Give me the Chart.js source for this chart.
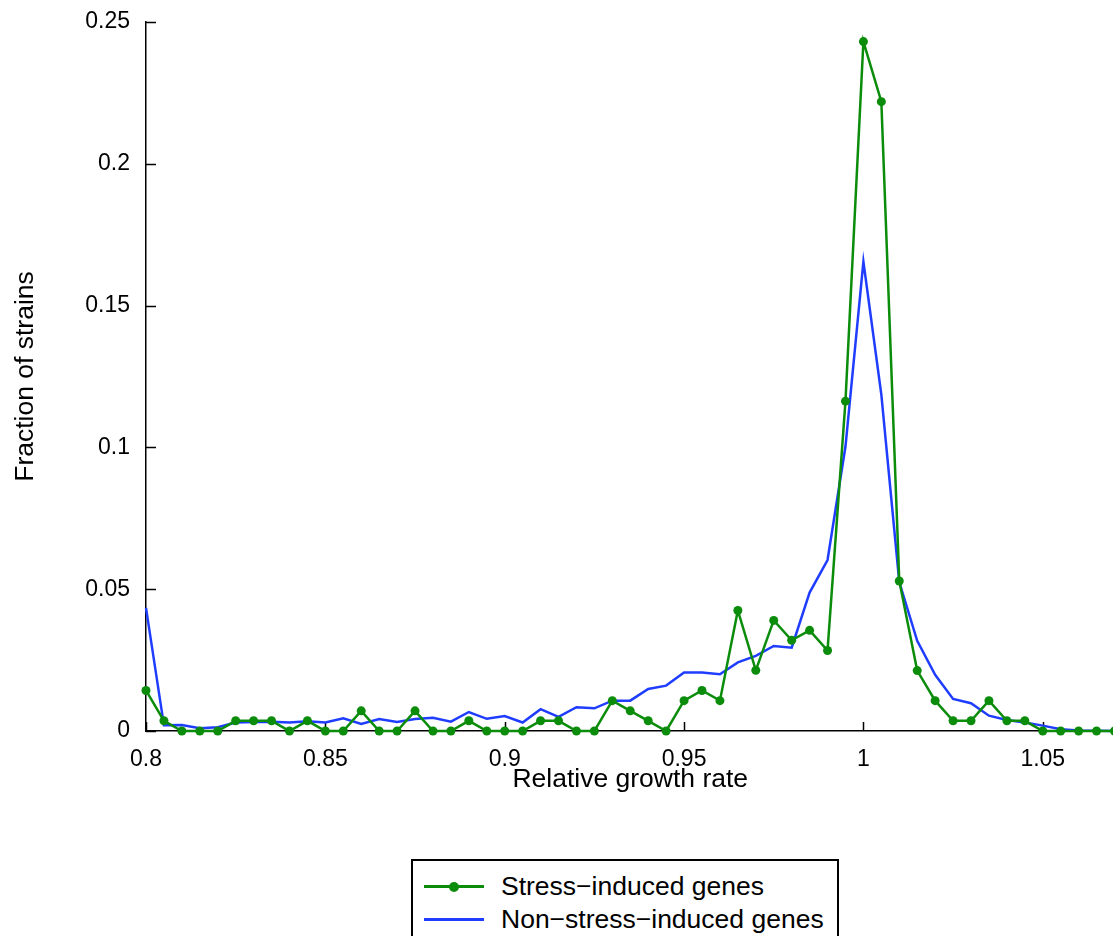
<!DOCTYPE html>
<html>
<head>
<meta charset="utf-8">
<title>Relative growth rate</title>
<script src="https://cdn.jsdelivr.net/npm/chart.js@4.4.0/dist/chart.umd.min.js"></script>
<style>
  html, body { margin: 0; padding: 0; background: #fff; overflow: hidden; }
  #wrap { position: relative; width: 1113px; height: 936px; overflow: hidden; }
  #legend {
    position: absolute; left: 411px; top: 859px; width: 428px; height: 110px;
    border: 2px solid #000; background: #fff; box-sizing: border-box;
    font-family: "Liberation Sans", Arial, sans-serif; font-size: 26.5px; color: #000;
    padding-top: 9px;
  }
  .row { display: flex; align-items: center; height: 33px; }
  .sample { position: relative; width: 60px; height: 3px; margin-left: 11px; margin-right: 17px; }
  .dot { position: absolute; left: 25px; top: -3.5px; width: 10px; height: 10px; border-radius: 50%; }
</style>
</head>
<body>
<div id="wrap">
  <canvas id="chart" width="1119" height="936"></canvas>
  <div id="legend"></div>
</div>
<script>
// #region Data
// ---------------------------------------
const growthRate = [
  0.8, 0.805, 0.81, 0.815, 0.82, 0.825, 0.83, 0.835, 0.84, 0.845,
  0.85, 0.855, 0.86, 0.865, 0.87, 0.875, 0.88, 0.885, 0.89, 0.895,
  0.9, 0.905, 0.91, 0.915, 0.92, 0.925, 0.93, 0.935, 0.94, 0.945,
  0.95, 0.955, 0.96, 0.965, 0.97, 0.975, 0.98, 0.985, 0.99, 0.995,
  1.0, 1.005, 1.01, 1.015, 1.02, 1.025, 1.03, 1.035, 1.04, 1.045,
  1.05, 1.055, 1.06, 1.065, 1.07
];

const stressInduced = [
  0.0143, 0.0036, 0, 0, 0, 0.0036, 0.0036, 0.0036, 0, 0.0036,
  0, 0, 0.0071, 0, 0, 0.0071, 0, 0, 0.0036, 0,
  0, 0, 0.0036, 0.0036, 0, 0, 0.0107, 0.0071, 0.0036, 0,
  0.0107, 0.0143, 0.0107, 0.0425, 0.0214, 0.0390, 0.0320, 0.0355, 0.0284, 0.1163,
  0.2431, 0.2219, 0.0529, 0.0213, 0.0107, 0.0036, 0.0036, 0.0107, 0.0036, 0.0036,
  0, 0, 0, 0, 0
];

const nonStressInduced = [
  0.0434, 0.0020, 0.0021, 0.0010, 0.0013, 0.0030, 0.0032, 0.0033, 0.0030, 0.0034,
  0.0030, 0.0045, 0.0025, 0.0042, 0.0032, 0.0042, 0.0047, 0.0033, 0.0067, 0.0043,
  0.0053, 0.0030, 0.0077, 0.0050, 0.0084, 0.0080, 0.0107, 0.0107, 0.0148, 0.0160,
  0.0206, 0.0206, 0.0200, 0.0242, 0.0265, 0.0300, 0.0294, 0.0488, 0.0603, 0.1003,
  0.1655, 0.1186, 0.0525, 0.0318, 0.0198, 0.0113, 0.0098, 0.0054, 0.0039, 0.0030,
  0.0019, 0.0006, 0.0002, 0.0001, 0
];

const xTicks = [0.8, 0.85, 0.9, 0.95, 1, 1.05];
const xTickLabels = ["0.8", "0.85", "0.9", "0.95", "1", "1.05"];
const yTicks = [0, 0.05, 0.1, 0.15, 0.2, 0.25];
const yTickLabels = ["0", "0.05", "0.1", "0.15", "0.2", "0.25"];
// ---------------------------------------
// #endregion

const FONT = '"Liberation Sans", Arial, sans-serif';
const GREEN = "#0b8c0b";
const BLUE = "#1f3dff";

const toPoints = (ys) => growthRate.map((x, i) => ({ x: x, y: ys[i] }));

// tick marks drawn inward, like the original figure
const insideTicks = {
  id: "insideTicks",
  beforeDatasetsDraw(chart) {
    const { ctx, chartArea, scales } = chart;
    ctx.save();
    ctx.strokeStyle = "#000";
    ctx.lineWidth = 1.5;
    ctx.beginPath();
    scales.x.ticks.forEach((t) => {
      const px = Math.round(scales.x.getPixelForValue(t.value)) + 0.5;
      ctx.moveTo(px, chartArea.bottom);
      ctx.lineTo(px, chartArea.bottom - 9);
    });
    scales.y.ticks.forEach((t) => {
      const py = Math.round(scales.y.getPixelForValue(t.value)) + 0.5;
      ctx.moveTo(chartArea.left, py);
      ctx.lineTo(chartArea.left + 10, py);
    });
    ctx.stroke();
    ctx.restore();
  },
};

const chart = new Chart(document.getElementById("chart"), {
  type: "line",
  data: {
    datasets: [
      {
        label: "Stress\u2212induced genes",
        data: toPoints(stressInduced),
        borderColor: GREEN,
        backgroundColor: GREEN,
        borderWidth: 2.5,
        pointRadius: 4.5,
        pointHoverRadius: 4.5,
        pointBorderWidth: 0,
        tension: 0,
        clip: false,
      },
      {
        label: "Non\u2212stress\u2212induced genes",
        data: toPoints(nonStressInduced),
        borderColor: BLUE,
        backgroundColor: BLUE,
        borderWidth: 2.5,
        pointRadius: 0,
        tension: 0,
        clip: false,
      },
    ],
  },
  options: {
    responsive: false,
    animation: false,
    events: [],
    layout: { padding: { top: 22, right: 0, bottom: 140, left: 0 } },
    plugins: { legend: { display: false }, tooltip: { enabled: false } },
    scales: {
      x: {
        type: "linear",
        min: 0.8,
        max: 1.07,
        afterBuildTicks: (s) => { s.ticks = xTicks.map((v) => ({ value: v })); },
        afterFit: (s) => { s.height = 65; s.paddingLeft = 0; s.paddingRight = 0; },
        grid: { display: false, drawTicks: false },
        border: { display: true, color: "#000", width: 1.5 },
        ticks: {
          autoSkip: false,
          maxRotation: 0,
          padding: 15,
          color: "#000",
          font: { family: FONT, size: 23 },
          callback: (v, i) => xTickLabels[i],
        },
        title: {
          display: true,
          text: "Relative growth rate",
          color: "#000",
          font: { family: FONT, size: 26.5 },
          padding: { top: 0, bottom: 0 },
        },
      },
      y: {
        min: 0,
        max: 0.25,
        afterBuildTicks: (s) => { s.ticks = yTicks.map((v) => ({ value: v })); },
        afterFit: (s) => { s.width = 146; s.paddingTop = 0; s.paddingBottom = 0; },
        grid: { display: false, drawTicks: false },
        border: { display: true, color: "#000", width: 1.5 },
        ticks: {
          autoSkip: false,
          padding: 16,
          color: "#000",
          font: { family: FONT, size: 23 },
          callback: (v, i) => yTickLabels[i],
        },
        title: {
          display: true,
          text: "Fraction of strains",
          color: "#000",
          font: { family: FONT, size: 26.5 },
          padding: { top: 10, bottom: 0 },
        },
      },
    },
  },
  plugins: [insideTicks],
});

// boxed legend under the plot
const legendEl = document.getElementById("legend");
chart.data.datasets.forEach((ds) => {
  const row = document.createElement("div");
  row.className = "row";
  const sample = document.createElement("span");
  sample.className = "sample";
  sample.style.background = ds.borderColor;
  if (ds.pointRadius > 0) {
    const dot = document.createElement("span");
    dot.className = "dot";
    dot.style.background = ds.backgroundColor;
    sample.appendChild(dot);
  }
  const text = document.createElement("span");
  text.textContent = ds.label;
  row.appendChild(sample);
  row.appendChild(text);
  legendEl.appendChild(row);
});
</script>
</body>
</html>
